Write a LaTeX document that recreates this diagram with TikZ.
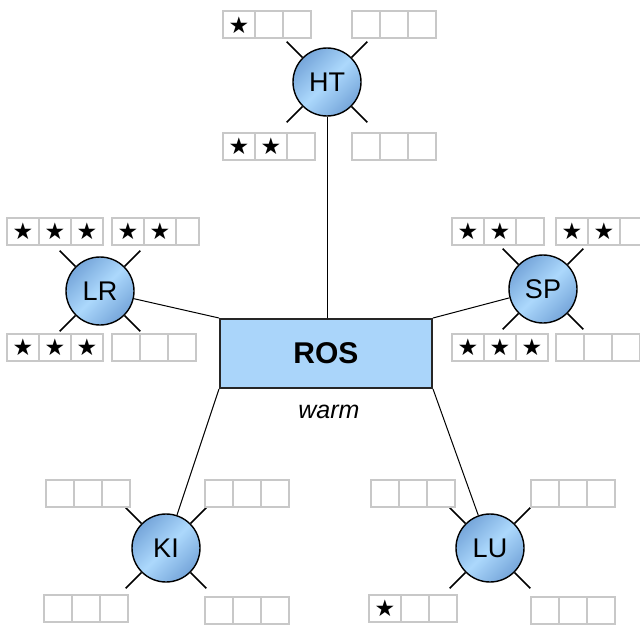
\documentclass[tikz,border=0pt]{standalone}
\usepackage{fontspec}
\setmainfont{Liberation Sans}
\newfontfamily\symfont{DejaVu Sans}
\usetikzlibrary{calc}

\definecolor{rosblue}{RGB}{170,213,250}
\definecolor{cdark}{RGB}{118,166,218}
\definecolor{clight}{RGB}{172,216,252}
\definecolor{cellgray}{RGB}{200,200,200}

\tikzset{
  site/.style={circle, draw=black, line width=1.4pt, minimum size=68pt, inner sep=0pt,
    shading=axis, left color=cdark, right color=cdark, middle color=clight, shading angle=45,
    font=\fontsize{27}{27}\selectfont},
  sitetick/.style={line width=1.5pt},
  conn/.style={line width=1pt},
  cellbox/.style={draw=cellgray, line width=2pt, minimum height=27pt, inner sep=0pt, outer sep=0pt,
    anchor=west, font=\symfont\fontsize{23}{23}\selectfont},
  core/.style={draw=black!85, line width=2pt, fill=rosblue, minimum width=212pt, minimum height=69pt,
    inner sep=0pt, font=\bfseries\fontsize{30}{30}\selectfont},
  note/.style={font=\itshape\fontsize{25}{25}\selectfont, inner sep=0pt},
}

\newcommand\st{★}
\newcommand\cellrow[9]{%
  \node[cellbox, minimum width=#4pt] (#1a) at (#2,#3) {#5};
  \node[cellbox, minimum width=#6pt] (#1b) at (#1a.east) {#7};
  \node[cellbox, minimum width=#8pt] (#1c) at (#1b.east) {#9};
}

\begin{document}
\begin{tikzpicture}[x=1pt,y=-1pt]
\useasboundingbox (0,0) rectangle (640,626);

% central box
\node[core] (ros) at (326,353.5) {ROS};
\node[note] (warm) at (329,412) {warm};

% sites
\node[site] (HT) at (327,82) {HT};
\node[site] (LR) at (100,291) {LR};
\node[site] (SP) at (543,289) {SP};
\node[site] (KI) at (166,548) {KI};
\node[site] (LU) at (490,548) {LU};

\foreach \s in {HT,LR,SP,KI,LU}{
  \foreach \a in {45,135,225,315}{
    \draw[sitetick] (\s.\a) -- ($(\s)!57pt!(\s.\a)$);
  }
}

% connectors
\draw[conn] (HT.south) -- (HT.south |- ros.north);
\draw[conn] (LR) -- (ros.north west);
\draw[conn] (SP) -- (ros.north east);
\draw[conn] (ros.south west) -- (KI);
\draw[conn] (ros.south east) -- (LU);

% rating rows
\cellrow{HTtl}{223}{25}{32}{\st}{28}{}{28}{}
\cellrow{HTtr}{352}{25}{28}{}{28}{}{28}{}
\cellrow{HTbl}{223}{146}{32}{\st}{32}{\st}{28}{}
\cellrow{HTbr}{352}{146}{28}{}{28}{}{28}{}

\cellrow{LRtl}{7}{231}{32}{\st}{32}{\st}{32}{\st}
\cellrow{LRtr}{112}{231}{32}{\st}{32}{\st}{23}{}
\cellrow{LRbl}{7}{347}{32}{\st}{32}{\st}{32}{\st}
\cellrow{LRbr}{112}{347}{28}{}{28}{}{28}{}

\cellrow{SPtl}{452}{231}{32}{\st}{32}{\st}{28}{}
\cellrow{SPtr}{556}{231}{32}{\st}{32}{\st}{28}{}
\cellrow{SPbl}{452}{347}{32}{\st}{32}{\st}{32}{\st}
\cellrow{SPbr}{556}{347}{28}{}{28}{}{28}{}

\cellrow{KItl}{46}{493}{28}{}{28}{}{28}{}
\cellrow{KItr}{205}{493}{28}{}{28}{}{28}{}
\cellrow{KIbl}{44}{608}{28}{}{28}{}{28}{}
\cellrow{KIbr}{205}{610}{28}{}{28}{}{28}{}

\cellrow{LUtl}{371}{493}{28}{}{28}{}{28}{}
\cellrow{LUtr}{531}{493}{28}{}{28}{}{28}{}
\cellrow{LUbl}{369}{608}{32}{\st}{28}{}{28}{}
\cellrow{LUbr}{531}{610}{28}{}{28}{}{28}{}
\end{tikzpicture}
\end{document}
